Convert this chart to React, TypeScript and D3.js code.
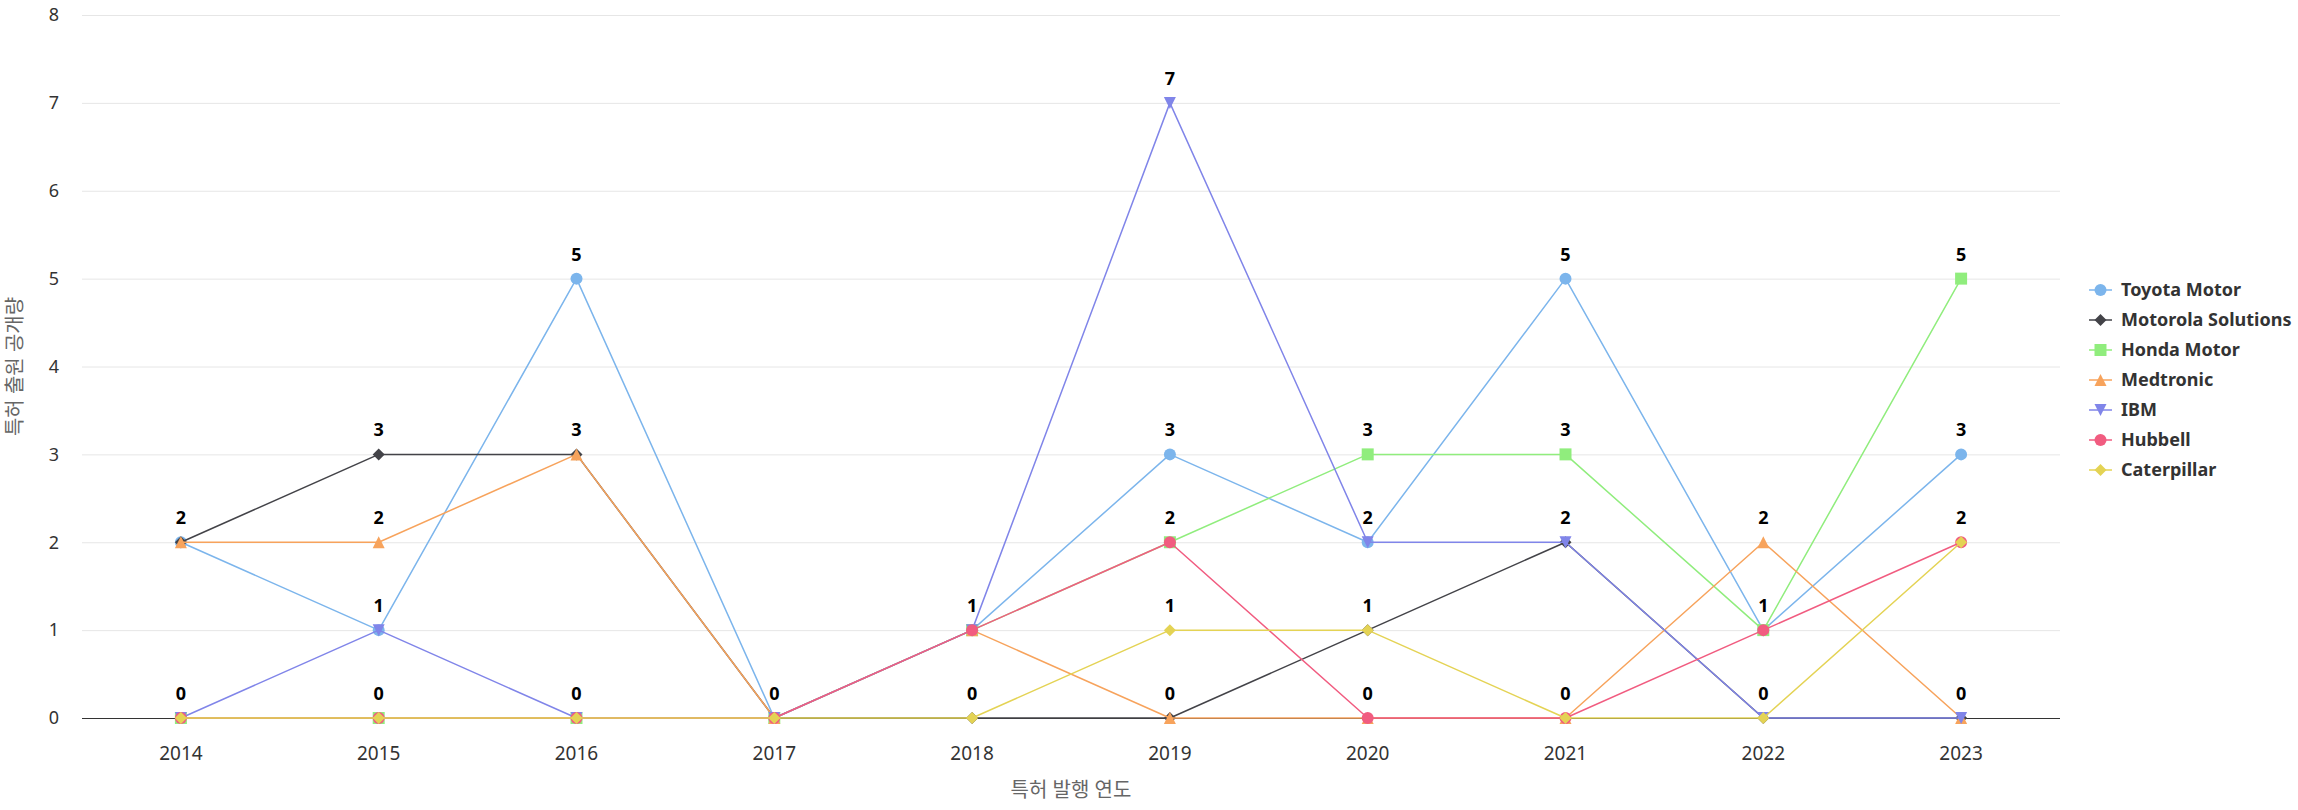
import { useEffect, useRef } from 'react';
import * as d3 from 'd3';

const years = ['2014', '2015', '2016', '2017', '2018', '2019', '2020', '2021', '2022', '2023'];
const yTicks = [0, 1, 2, 3, 4, 5, 6, 7, 8];

const toyota = [2, 1, 5, 0, 1, 3, 2, 5, 1, 3];
const motorola = [2, 3, 3, 0, 0, 0, 1, 2, 0, 0];
const honda = [0, 0, 0, 0, 1, 2, 3, 3, 1, 5];
const medtronic = [2, 2, 3, 0, 1, 0, 0, 0, 2, 0];
const ibm = [0, 1, 0, 0, 1, 7, 2, 2, 0, 0];
const hubbell = [0, 0, 0, 0, 1, 2, 0, 0, 1, 2];
const caterpillar = [0, 0, 0, 0, 0, 1, 1, 0, 0, 2];

const seriesNames = ['Toyota Motor', 'Motorola Solutions', 'Honda Motor', 'Medtronic', 'IBM', 'Hubbell', 'Caterpillar'];
const seriesValues = [toyota, motorola, honda, medtronic, ibm, hubbell, caterpillar];
const seriesColors = ['#7cb5ec', '#434348', '#90ed7d', '#f7a35c', '#8085e9', '#f15c80', '#e4d354'];
const seriesSymbols = ['circle', 'diamond', 'square', 'triangle', 'triangle-down', 'circle', 'diamond'];

const xTitle = '특허 발행 연도';
const yTitle = '특허 출원 공개량';

const FONT = '"Noto Sans", "Noto Sans CJK KR", sans-serif';

// highcharts-like marker shapes
const symbolPath = (type: string, cx: number, cy: number, r: number) => {
  switch (type) {
    case 'circle':
      return `M${cx - r},${cy}a${r},${r} 0 1,0 ${2 * r},0a${r},${r} 0 1,0 ${-2 * r},0Z`;
    case 'diamond':
      return `M${cx},${cy - r}L${cx + r},${cy}L${cx},${cy + r}L${cx - r},${cy}Z`;
    case 'square':
      return `M${cx - r},${cy - r}H${cx + r}V${cy + r}H${cx - r}Z`;
    case 'triangle':
      return `M${cx},${cy - r}L${cx + r},${cy + r}L${cx - r},${cy + r}Z`;
    case 'triangle-down':
      return `M${cx - r},${cy - r}L${cx + r},${cy - r}L${cx},${cy + r}Z`;
    default:
      return '';
  }
};

const Chart = () => {
  const svgRef = useRef<SVGSVGElement>(null);

  useEffect(() => {
    const width = 2298;
    const height = 810;
    const left = 82;
    const right = 2060;
    const top = 15;
    const bottom = 718;

    const svg = d3.select(svgRef.current).attr('width', width).attr('height', height);
    svg.selectAll('*').remove();

    const x = d3.scaleBand().domain(years).range([left, right]);
    const cx = (d: string) => (x(d) as number) + x.bandwidth() / 2;
    const y = d3.scaleLinear().domain([0, 8]).range([bottom, top]);

    // grid
    svg.append('g')
      .selectAll('line')
      .data(yTicks)
      .enter().append('line')
      .attr('x1', left)
      .attr('x2', right)
      .attr('y1', d => y(d) + 0.5)
      .attr('y2', d => y(d) + 0.5)
      .attr('stroke', '#e6e6e6')
      .attr('stroke-width', 1);

    // y labels
    svg.append('g')
      .selectAll('text')
      .data(yTicks)
      .enter().append('text')
      .attr('x', 59)
      .attr('y', d => y(d))
      .attr('dy', '0.35em')
      .attr('text-anchor', 'end')
      .style('font-family', FONT)
      .style('font-size', '18px')
      .style('fill', '#333')
      .text(d => d);

    // x axis line
    svg.append('line')
      .attr('x1', left)
      .attr('x2', right)
      .attr('y1', bottom + 0.5)
      .attr('y2', bottom + 0.5)
      .attr('stroke', '#333')
      .attr('stroke-width', 1);

    // x labels
    svg.append('g')
      .selectAll('text')
      .data(years)
      .enter().append('text')
      .attr('x', d => cx(d))
      .attr('y', 760)
      .attr('text-anchor', 'middle')
      .style('font-family', FONT)
      .style('font-size', '19px')
      .style('fill', '#333')
      .text(d => d);

    // axis titles
    svg.append('text')
      .attr('x', (left + right) / 2)
      .attr('y', 797)
      .attr('text-anchor', 'middle')
      .style('font-family', FONT)
      .style('font-size', '20px')
      .style('fill', '#666')
      .text(xTitle);

    svg.append('text')
      .attr('transform', `translate(22,${(top + bottom) / 2}) rotate(-90)`)
      .attr('text-anchor', 'middle')
      .style('font-family', FONT)
      .style('font-size', '20px')
      .style('fill', '#666')
      .text(yTitle);

    // series
    const line = d3.line<number>()
      .x((_, i) => cx(years[i]))
      .y(d => y(d));

    seriesValues.forEach((values, s) => {
      const g = svg.append('g');
      g.append('path')
        .datum(values)
        .attr('fill', 'none')
        .attr('stroke', seriesColors[s])
        .attr('stroke-width', 1.5)
        .attr('stroke-linejoin', 'round')
        .attr('d', line);
      g.selectAll('path.marker')
        .data(values)
        .enter().append('path')
        .attr('class', 'marker')
        .attr('fill', seriesColors[s])
        .attr('d', (d, i) => symbolPath(seriesSymbols[s], cx(years[i]), y(d), 6));
    });

    // data labels, one per distinct value per year
    const labels: { year: string; value: number }[] = [];
    years.forEach((yr, i) => {
      const seen = new Set<number>();
      seriesValues.forEach(values => {
        if (!seen.has(values[i])) {
          seen.add(values[i]);
          labels.push({ year: yr, value: values[i] });
        }
      });
    });

    svg.append('g')
      .selectAll('text')
      .data(labels)
      .enter().append('text')
      .attr('x', d => cx(d.year))
      .attr('y', d => y(d.value) - 18)
      .attr('text-anchor', 'middle')
      .style('font-family', FONT)
      .style('font-size', '18px')
      .style('font-weight', 'bold')
      .style('fill', '#000')
      .style('paint-order', 'stroke')
      .style('stroke', '#fff')
      .style('stroke-width', '2px')
      .text(d => d.value);

    // legend
    const legend = svg.selectAll('.legend')
      .data(seriesNames)
      .enter().append('g')
      .attr('class', 'legend')
      .attr('transform', (_, i) => `translate(2089,${290 + i * 30})`);

    legend.append('line')
      .attr('x1', 0)
      .attr('x2', 23)
      .attr('stroke', (_, i) => seriesColors[i])
      .attr('stroke-width', 1.5);

    legend.append('path')
      .attr('fill', (_, i) => seriesColors[i])
      .attr('d', (_, i) => symbolPath(seriesSymbols[i], 11.5, 0, 6));

    legend.append('text')
      .attr('x', 32)
      .attr('dy', '0.35em')
      .style('font-family', FONT)
      .style('font-size', '18px')
      .style('font-weight', 'bold')
      .style('fill', '#333')
      .text(d => d);
  }, []);

  return <svg ref={svgRef}></svg>;
};

export default function App() {
  return (
    <div style={{ position: 'absolute', left: 0, top: 0 }}>
      <Chart />
    </div>
  );
}
